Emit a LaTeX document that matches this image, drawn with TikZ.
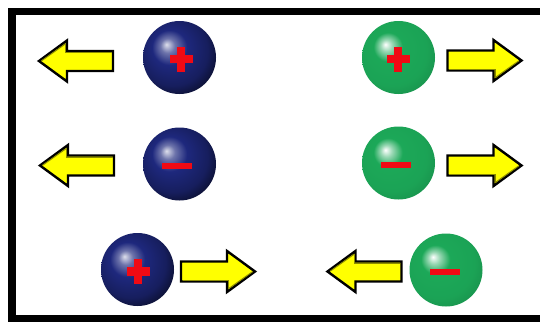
\documentclass[tikz,border=0pt]{standalone}
\usetikzlibrary{calc}
\definecolor{bcol}{RGB}{30,40,125}
\definecolor{gcol}{RGB}{28,168,88}
\definecolor{ayel}{RGB}{255,255,0}
\definecolor{signred}{RGB}{240,10,20}
\pgfdeclareradialshading{blueball}{\pgfpoint{-9bp}{9bp}}{%
  color(0bp)=(bcol!15!white); color(5bp)=(bcol!65!white); color(12bp)=(bcol);
  color(24bp)=(bcol!75!black); color(34bp)=(bcol!25!black); color(50bp)=(black)}
\pgfdeclareradialshading{greenball}{\pgfpoint{-9bp}{9bp}}{%
  color(0bp)=(white); color(4bp)=(gcol!45!white); color(10bp)=(gcol);
  color(24bp)=(gcol!97!black); color(34bp)=(gcol!85!black); color(50bp)=(gcol!80!black)}
\tikzset{
  ball/.style={circle, minimum size=73pt, inner sep=0pt},
  blueb/.style={ball, shading=blueball},
  greenb/.style={ball, shading=greenball},
  arrowbody/.style={fill=ayel, draw=black, line width=2.4pt, line join=miter},
  yarrow/.pic={
    \path[arrowbody] (-37,-10) -- (9,-10) -- (9,-20.5) -- (37,0) -- (9,20.5) -- (9,10) -- (-37,10) -- cycle;
    \draw[ayel!55!black, line width=1pt] (-35.5,8.5) -- (10.5,8.5) -- (10.5,17.5);
    \draw[ayel!55!black, line width=1pt] (10.5,17.2) -- (34.5,0.2);
  },
  plussign/.pic={
    \fill[signred] (-11.5,-4.2) rectangle (11.5,4.2);
    \fill[signred] (-4.2,-12.5) rectangle (4.2,12.5);
  },
  minussign/.pic={
    \fill[signred] (-15,-3) rectangle (15,3);
  }
}
\begin{document}
\begin{tikzpicture}[x=1pt,y=-1pt]
\useasboundingbox (0,0) rectangle (540,322);
\fill[white] (0,0) rectangle (540,322);
\draw[line width=7.5pt, line join=miter] (541,11.5) -- (12,11.5) -- (12,318.5) -- (541,318.5);
% balls
\node[blueb] (b1) at (179.5,57.5) {};
\node[greenb] (g1) at (398.5,57.5) {};
\node[blueb] (b2) at (179.5,164) {};
\node[greenb] (g2) at (398.5,163) {};
\node[blueb] (b3) at (137.5,269.5) {};
\node[greenb] (g3) at (446,270) {};
% signs
\pic at ($(b1)+(1.5,1.5)$) {plussign};
\pic at ($(g1)+(-0.5,1.5)$) {plussign};
\pic at ($(b2)+(-2.5,2)$) {minussign};
\pic at ($(g2)+(-2.5,2)$) {minussign};
\pic at ($(b3)+(0.5,2)$) {plussign};
\pic at ($(g3)+(-1.5,2)$) {minussign};
% arrows
\pic[rotate=180] at (76,61) {yarrow};
\pic at (484.5,60.5) {yarrow};
\pic[rotate=180] at (77,165.5) {yarrow};
\pic at (484.5,165.5) {yarrow};
\pic at (218,271.5) {yarrow};
\pic[rotate=180] at (364.5,271.5) {yarrow};
\end{tikzpicture}
\end{document}
